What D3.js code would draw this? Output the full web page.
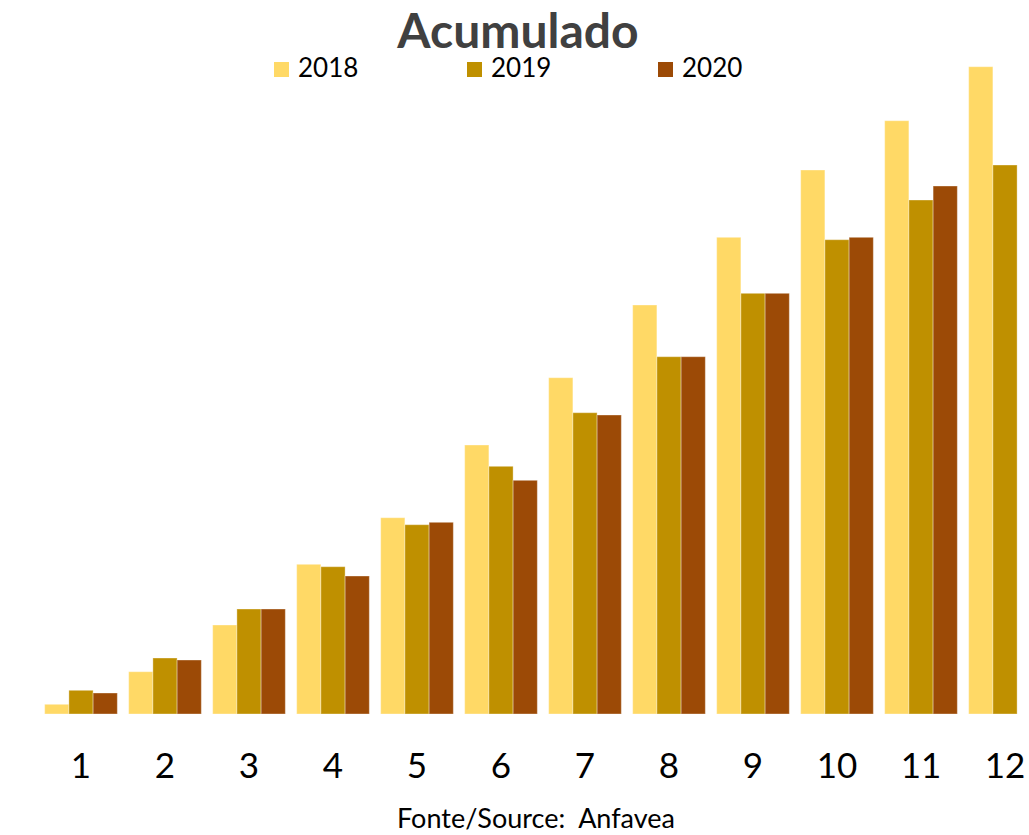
<!DOCTYPE html>
<html>
<head>
<meta charset="utf-8">
<script src="https://cdn.jsdelivr.net/npm/d3@7"></script>
<style>
  html, body { margin: 0; padding: 0; background: #fff; }
  svg { display: block; }
</style>
</head>
<body>
<svg id="chart" width="1029" height="835"></svg>
<script>
const months = ["1","2","3","4","5","6","7","8","9","10","11","12"];
const years = ["2018","2019","2020"];
const v2018 = [9.7, 42.3, 89, 149.7, 196.3, 269, 336.3, 409, 476.7, 544, 593.3, 647.3];
const v2019 = [23.7, 56, 105, 147.3, 189.3, 247.7, 301.3, 357.3, 420.7, 474.3, 514, 549];
const v2020 = [21, 54, 105, 138, 191.7, 233.7, 299, 357.3, 420.7, 476.7, 528, null];
const colors = ["#FFD966", "#BF9000", "#9C4A06"];
const titleText = "Acumulado";
const sourceText = "Fonte/Source:  Anfavea";

const series = [v2018, v2019, v2020];
const svg = d3.select("#chart");
const font = "Lato, 'Open Sans', sans-serif";

const x0 = d3.scaleBand().domain(months).range([39, 1047])
  .paddingInner(0.135).paddingOuter(0.0675);
const x1 = d3.scaleBand().domain(years).range([0, x0.bandwidth()]);
const y = d3.scaleLinear().domain([0, 650]).range([714, 64]);

const groups = svg.append("g").selectAll("g")
  .data(months).join("g")
  .attr("transform", d => `translate(${x0(d)},0)`);

groups.selectAll("rect")
  .data((m, i) => years.map((yr, j) => ({ yr, j, v: series[j][i] })).filter(d => d.v != null))
  .join("rect")
  .attr("x", d => x1(d.yr))
  .attr("width", x1.bandwidth())
  .attr("y", d => y(d.v))
  .attr("height", d => y(0) - y(d.v))
  .attr("fill", d => colors[d.j])
  .attr("stroke", "rgba(255,255,255,0.35)")
  .attr("stroke-width", 1);

const xAxis = d3.axisBottom(x0).tickSize(0).tickPadding(0);
const gx = svg.append("g").attr("transform", "translate(0,778)").call(xAxis);
gx.select(".domain").remove();
gx.selectAll("text")
  .attr("dy", 0)
  .attr("font-family", font)
  .attr("font-size", 35)
  .attr("fill", "#000");

svg.append("text")
  .attr("x", 518).attr("y", 48)
  .attr("text-anchor", "middle")
  .attr("font-family", font)
  .attr("font-weight", "bold")
  .attr("font-size", 48)
  .attr("fill", "#404040")
  .text(titleText);

const legendX = [274, 467, 658];
const lg = svg.append("g").selectAll("g").data(years).join("g")
  .attr("transform", (d, i) => `translate(${legendX[i]},0)`);
lg.append("rect").attr("x", 0).attr("y", 62).attr("width", 15).attr("height", 15)
  .attr("fill", (d, i) => colors[i]);
lg.append("text").attr("x", 24).attr("y", 77)
  .attr("font-family", font).attr("font-size", 26).attr("fill", "#000")
  .text(d => d);

svg.append("text")
  .attr("x", 536).attr("y", 828)
  .attr("text-anchor", "middle")
  .attr("font-family", font)
  .attr("font-size", 27)
  .attr("fill", "#000")
  .style("white-space", "pre")
  .text(sourceText);
</script>
</body>
</html>
